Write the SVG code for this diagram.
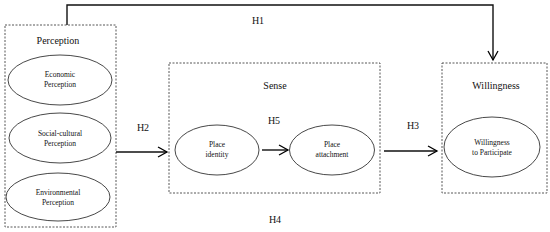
<svg xmlns="http://www.w3.org/2000/svg" width="550" height="232" viewBox="0 0 550 232">
<defs>
<marker id="arr" markerWidth="12" markerHeight="12" refX="10" refY="6" orient="auto" markerUnits="userSpaceOnUse">
<path d="M1,1 L10,6 L1,11" fill="none" stroke="#000" stroke-width="1.3"/>
</marker>
<style>
.box{fill:none;stroke:#444;stroke-width:0.9;stroke-dasharray:2,1.5}
.ell{fill:#fff;stroke:#333;stroke-width:0.9}
.t{font-family:"Liberation Serif","Times New Roman",serif;font-size:10px;fill:#111;text-anchor:middle}
.s{font-family:"Liberation Serif","Times New Roman",serif;font-size:7.5px;fill:#111;text-anchor:middle}
.c{fill:none;stroke:#111;stroke-width:1.4}
</style>
</defs>
<rect width="550" height="232" fill="#fff"/>
<g id="perception">
<rect class="box" x="5" y="25" width="111" height="202"/>
<text class="t" x="58" y="44">Perception</text>
<g id="economic">
<ellipse class="ell" cx="60" cy="80" rx="52" ry="25"/>
<text class="s" x="60" y="77">Economic</text>
<text class="s" x="60" y="87">Perception</text>
</g>
<g id="social">
<ellipse class="ell" cx="60" cy="138" rx="51" ry="25"/>
<text class="s" x="60" y="136">Social-cultural</text>
<text class="s" x="60" y="146">Perception</text>
</g>
<g id="environmental">
<ellipse class="ell" cx="58" cy="197" rx="52" ry="24"/>
<text class="s" x="58" y="195">Environmental</text>
<text class="s" x="58" y="205">Perception</text>
</g>
</g>
<g id="sense">
<rect class="box" x="169" y="63" width="211" height="130"/>
<text class="t" x="275" y="89">Sense</text>
<g id="identity">
<ellipse class="ell" cx="217" cy="150" rx="42" ry="25"/>
<text class="s" x="217" y="147">Place</text>
<text class="s" x="217" y="157">identity</text>
</g>
<g id="attachment">
<ellipse class="ell" cx="332" cy="150" rx="42.5" ry="25"/>
<text class="s" x="332" y="147">Place</text>
<text class="s" x="332" y="157">attachment</text>
</g>
</g>
<g id="willingness">
<rect class="box" x="442" y="63" width="105" height="130"/>
<text class="t" x="496" y="89">Willingness</text>
<g id="participate">
<ellipse class="ell" cx="492" cy="147" rx="48" ry="30"/>
<text class="s" x="492" y="145">Willingness</text>
<text class="s" x="492" y="155">to Participate</text>
</g>
</g>
<g id="connectors">
<path class="c" d="M67,25 V5 H493 V60" marker-end="url(#arr)"/>
<path class="c" d="M116,152 H167" marker-end="url(#arr)"/>
<path class="c" d="M262,150 H288" marker-end="url(#arr)"/>
<path class="c" d="M384,151 H437" marker-end="url(#arr)"/>
<text class="t" x="258" y="24">H1</text>
<text class="t" x="143" y="131">H2</text>
<text class="t" x="413" y="129">H3</text>
<text class="t" x="275" y="223">H4</text>
<text class="t" x="274" y="124">H5</text>
</g>
</svg>
